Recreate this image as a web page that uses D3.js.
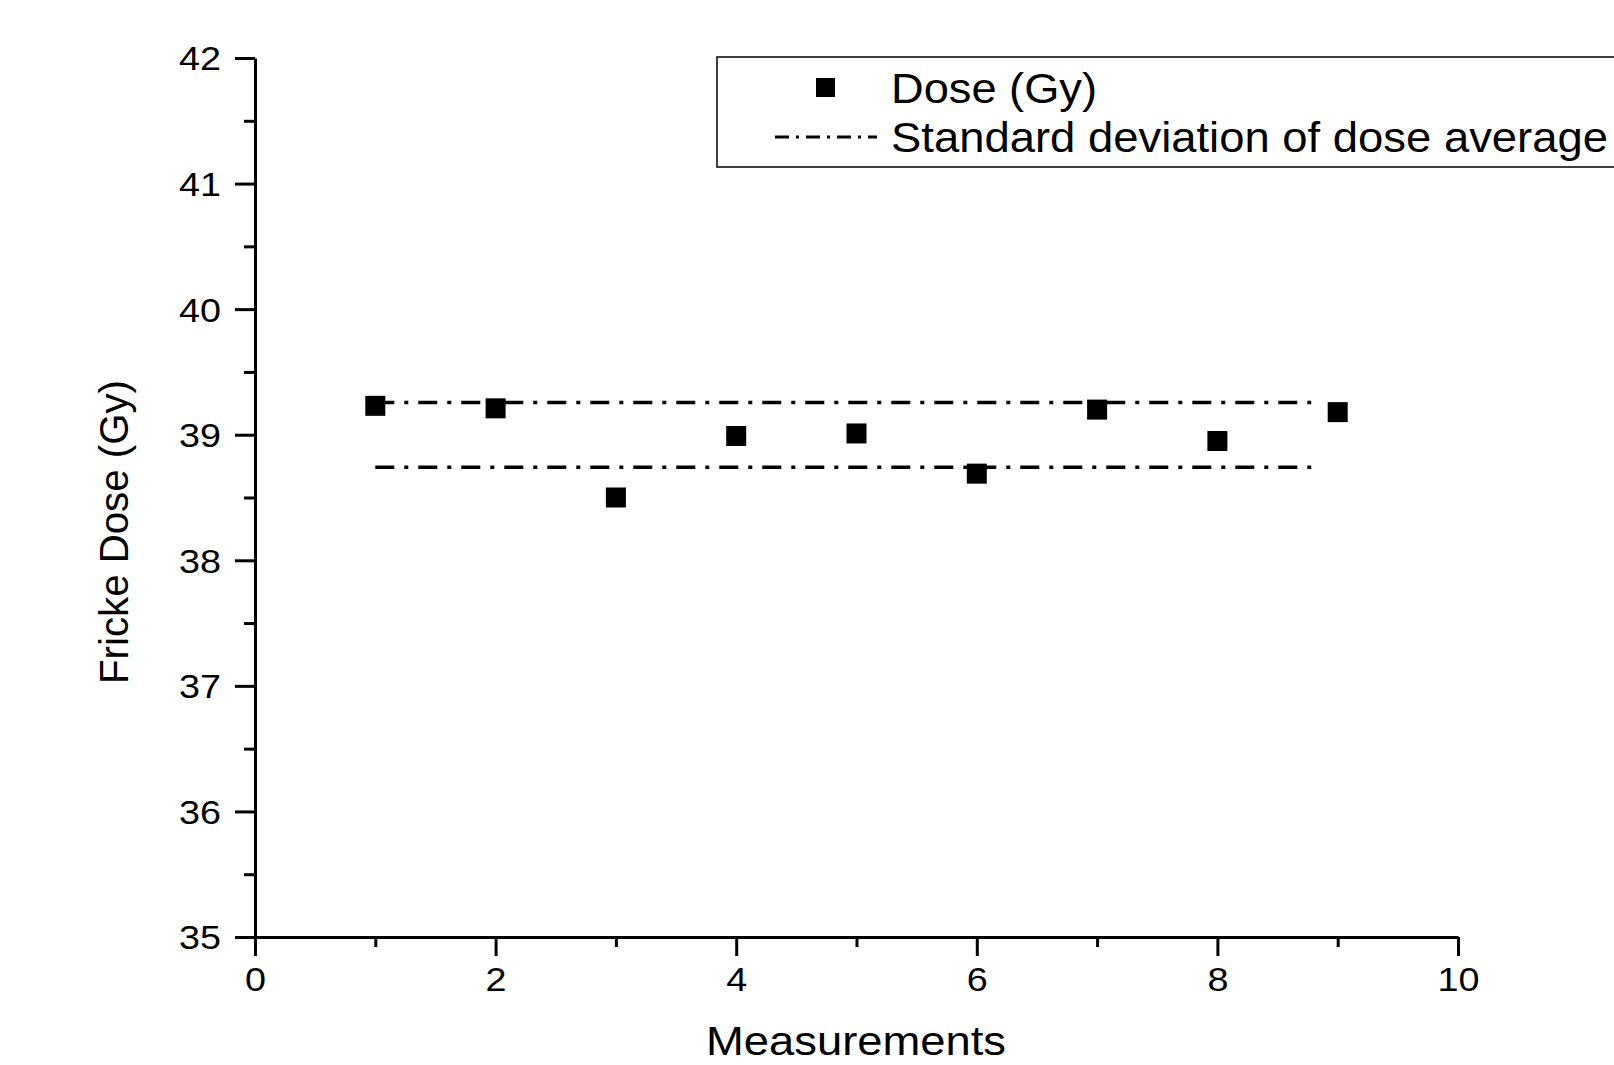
<!DOCTYPE html>
<html>
<head>
<meta charset="utf-8">
<script src="https://cdn.jsdelivr.net/npm/d3@7"></script>
<style>
  body { margin: 0; background: #fff; }
  text { font-family: "Liberation Sans", Arial, sans-serif; fill: #000; }
</style>
</head>
<body>
<script>
var svgWidth = 1614;
var svgHeight = 1065;

// data
var measurements = [1, 2, 3, 4, 5, 6, 7, 8, 9];
var dose = [39.23, 39.21, 38.50, 38.99, 39.01, 38.69, 39.20, 38.95, 39.18];
var sdX = [1, 8.78];
var sdUpper = [39.256, 39.256];
var sdLower = [38.74, 38.74];
var xTicks = [0, 2, 4, 6, 8, 10];
var yTicks = [35, 36, 37, 38, 39, 40, 41, 42];
var legendLabels = ["Dose (Gy)", "Standard deviation of dose average"];

var x = d3.scaleLinear().domain([0, 10]).range([255, 1458]);
var y = d3.scaleLinear().domain([35, 42]).range([937, 58]);

var svg = d3.select("body")
    .append("svg")
    .attr("width", svgWidth)
    .attr("height", svgHeight);

// minor ticks
svg.append("g")
    .attr("transform", "translate(0," + y(35) + ")")
    .call(d3.axisBottom(x).tickValues([1, 3, 5, 7, 9]).tickSize(10).tickFormat(""))
    .call(function (g) { g.select(".domain").remove(); })
    .selectAll("line").attr("stroke-width", 3);
svg.append("g")
    .attr("transform", "translate(" + x(0) + ",0)")
    .call(d3.axisLeft(y).tickValues(d3.range(35.5, 42, 1)).tickSize(11).tickFormat(""))
    .call(function (g) { g.select(".domain").remove(); })
    .selectAll("line").attr("stroke-width", 3);

// major axes
var xAxis = svg.append("g")
    .attr("transform", "translate(0," + y(35) + ")")
    .call(d3.axisBottom(x).tickValues(xTicks).tickFormat(d3.format("d")).tickSize(19).tickSizeOuter(0));
var yAxis = svg.append("g")
    .attr("transform", "translate(" + x(0) + ",0)")
    .call(d3.axisLeft(y).tickValues(yTicks).tickFormat(d3.format("d")).tickSize(20).tickSizeOuter(0).tickPadding(14));

[xAxis, yAxis].forEach(function (g) {
    g.select(".domain").attr("stroke-width", 3);
    g.selectAll(".tick line").attr("stroke-width", 3);
    g.selectAll(".tick text")
        .attr("font-size", 33)
        .attr("textLength", function (d) { return String(d).length * 21; })
        .attr("lengthAdjust", "spacingAndGlyphs");
});
yAxis.selectAll(".tick text").attr("dy", "0.36em");
xAxis.selectAll(".tick text").attr("y", 54).attr("dy", 0);

// axis titles
svg.append("text")
    .attr("x", 856)
    .attr("y", 1055)
    .attr("text-anchor", "middle")
    .attr("font-size", 41)
    .attr("textLength", 300)
    .attr("lengthAdjust", "spacingAndGlyphs")
    .text("Measurements");
svg.append("text")
    .attr("transform", "translate(128,532) rotate(-90)")
    .attr("text-anchor", "middle")
    .attr("font-size", 41)
    .attr("textLength", 304)
    .attr("lengthAdjust", "spacingAndGlyphs")
    .text("Fricke Dose (Gy)");

// standard deviation lines
var line = d3.line()
    .x(function (d) { return x(d[0]); })
    .y(function (d) { return y(d[1]); });
[sdUpper, sdLower].forEach(function (vals) {
    svg.append("path")
        .datum(sdX.map(function (v, i) { return [v, vals[i]]; }))
        .attr("d", line)
        .attr("fill", "none")
        .attr("stroke", "#000")
        .attr("stroke-width", 3.5)
        .attr("stroke-dasharray", "19,10,4,10");
});

// points
var size = 20;
svg.selectAll("rect.pt")
    .data(measurements)
    .enter()
    .append("rect")
    .attr("class", "pt")
    .attr("x", function (d) { return x(d) - size / 2; })
    .attr("y", function (d, i) { return y(dose[i]) - size / 2; })
    .attr("width", size)
    .attr("height", size)
    .attr("fill", "#000");

// legend
var legendWidths = [206, 717];
var legend = svg.append("g");
legend.append("rect")
    .attr("x", 717)
    .attr("y", 57)
    .attr("width", 1000)
    .attr("height", 110)
    .attr("fill", "none")
    .attr("stroke", "#000")
    .attr("stroke-width", 1.5);
legend.append("rect")
    .attr("x", 816)
    .attr("y", 78)
    .attr("width", 19)
    .attr("height", 19)
    .attr("fill", "#000");
legend.append("line")
    .attr("x1", 775)
    .attr("x2", 877)
    .attr("y1", 137)
    .attr("y2", 137)
    .attr("stroke", "#000")
    .attr("stroke-width", 3)
    .attr("stroke-dasharray", "14,7,3,7");
legend.selectAll("text.lg")
    .data(legendLabels)
    .enter()
    .append("text")
    .attr("class", "lg")
    .attr("x", 891)
    .attr("y", function (d, i) { return 103 + i * 49; })
    .attr("font-size", 42)
    .attr("textLength", function (d, i) { return legendWidths[i]; })
    .attr("lengthAdjust", "spacingAndGlyphs")
    .text(function (d) { return d; });
</script>
</body>
</html>
